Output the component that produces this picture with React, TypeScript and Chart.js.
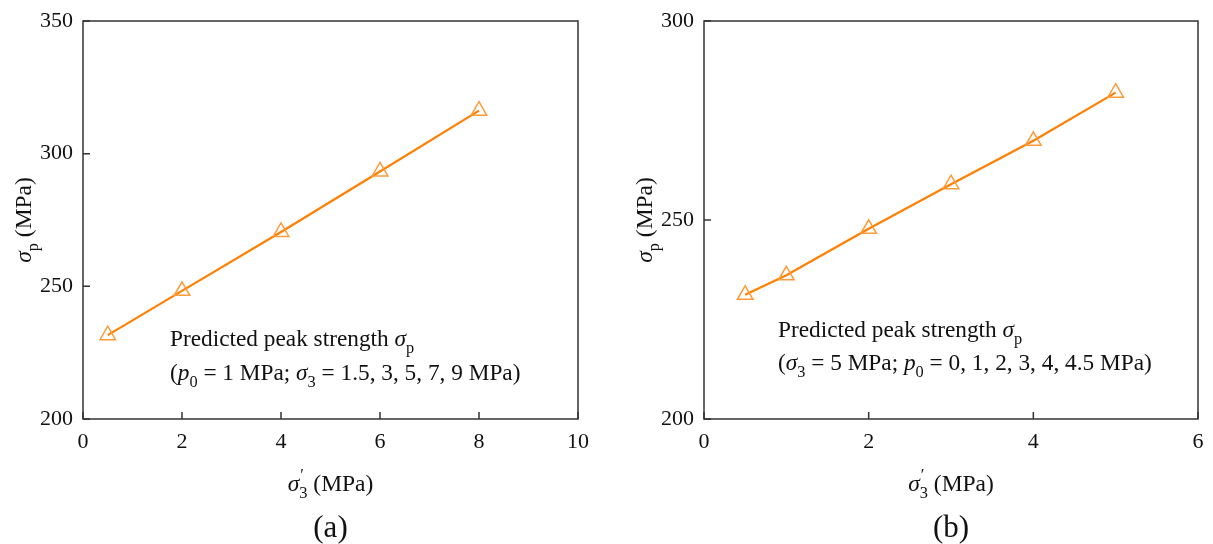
import React, { useEffect, useRef } from "react";
import { Chart, registerables } from "chart.js";
Chart.register(...registerables);

// ---- data ----
const xA = [0.5, 2, 4, 6, 8];
const yA = [231.6, 248.3, 270.5, 293.3, 316.2];
const xB = [0.5, 1, 2, 3, 4, 5];
const yB = [231.2, 236.1, 247.8, 259.0, 269.9, 282.0];

const xRangeA = [0, 10];
const yRangeA = [200, 350];
const xRangeB = [0, 6];
const yRangeB = [200, 300];
const xStep = 2;
const yStep = 50;

type Seg = { t: string; it?: boolean; sub?: boolean; sup?: boolean; keep?: boolean };

const noteA1: Seg[] = [{ t: "Predicted peak strength " }, { t: "σ", it: true }, { t: "p", sub: true }];
const noteA2: Seg[] = [
  { t: "(" }, { t: "p", it: true }, { t: "0", sub: true }, { t: " = 1 MPa; " },
  { t: "σ", it: true }, { t: "3", sub: true }, { t: " = 1.5, 3, 5, 7, 9 MPa)" },
];
const noteB1: Seg[] = noteA1;
const noteB2: Seg[] = [
  { t: "(" }, { t: "σ", it: true }, { t: "3", sub: true }, { t: " = 5 MPa; " },
  { t: "p", it: true }, { t: "0", sub: true }, { t: " = 0, 1, 2, 3, 4, 4.5 MPa)" },
];
const xTitle: Seg[] = [{ t: "σ", it: true }, { t: "3", sub: true, keep: true }, { t: "′", sup: true }, { t: " (MPa)" }];
const yTitle: Seg[] = [{ t: "σ", it: true }, { t: "p", sub: true }, { t: " (MPa)" }];

const FAMILY = "'Liberation Serif', 'Times New Roman', serif";
const TEXT = "#111111";
const LINE = "#ff8000";
const MARK = "#ff9a3a";

function segFont(s: Seg, size: number) {
  const sz = s.sub || s.sup ? size * 0.7 : size;
  return `${s.it ? "italic " : ""}${sz}px ${FAMILY}`;
}

function layoutRich(ctx: CanvasRenderingContext2D, segs: Seg[], size: number) {
  let x = 0;
  let keepStart = -1;
  let keepW = 0;
  const items: { s: Seg; x: number }[] = [];
  for (const s of segs) {
    ctx.font = segFont(s, size);
    const w = ctx.measureText(s.t).width;
    if (keepStart >= 0) {
      items.push({ s, x: keepStart + 1 });
      x = keepStart + Math.max(keepW, w + 1);
      keepStart = -1;
      continue;
    }
    items.push({ s, x });
    if (s.keep) {
      keepStart = x;
      keepW = w;
    } else {
      x += w;
    }
  }
  return { items, width: x };
}

function drawRich(
  ctx: CanvasRenderingContext2D, segs: Seg[], x: number, y: number, size: number, align: "left" | "center"
) {
  ctx.save();
  ctx.textAlign = "left";
  ctx.textBaseline = "alphabetic";
  ctx.fillStyle = TEXT;
  const { items, width } = layoutRich(ctx, segs, size);
  const x0 = align === "center" ? x - width / 2 : x;
  for (const it of items) {
    ctx.font = segFont(it.s, size);
    let dy = 0;
    if (it.s.sub) dy = size * 0.3;
    if (it.s.sup) dy = -size * 0.45;
    ctx.fillText(it.s.t, x0 + it.x, y + dy);
  }
  ctx.restore();
}

type PanelCfg = {
  xs: number[];
  ys: number[];
  xr: number[];
  yr: number[];
  width: number;
  leftW: number;
  rightPad: number;
  note1: Seg[];
  note2: Seg[];
  noteX: number;
  noteY1: number;
  noteY2: number;
  tag: string;
};

function Panel({ cfg }: { cfg: PanelCfg }) {
  const ref = useRef<HTMLCanvasElement | null>(null);
  useEffect(() => {
    const canvas = ref.current;
    if (!canvas) return;
    const deco = {
      id: "deco",
      afterDraw(chart: any) {
        const ctx = chart.ctx as CanvasRenderingContext2D;
        const a = chart.chartArea;
        const xs = chart.scales.x;
        const ys = chart.scales.y;
        ctx.save();
        ctx.strokeStyle = "#333333";
        ctx.lineWidth = 1.5;
        ctx.strokeRect(a.left, a.top, a.right - a.left, a.bottom - a.top);
        ctx.beginPath();
        for (const t of xs.ticks) {
          const px = xs.getPixelForValue(t.value);
          ctx.moveTo(px, a.bottom);
          ctx.lineTo(px, a.bottom - 7);
        }
        for (const t of ys.ticks) {
          const py = ys.getPixelForValue(t.value);
          ctx.moveTo(a.left, py);
          ctx.lineTo(a.left + 7, py);
        }
        ctx.stroke();
        ctx.restore();
        const cx = (a.left + a.right) / 2;
        const cy = (a.top + a.bottom) / 2;
        drawRich(ctx, xTitle, cx, 491, 23.5, "center");
        ctx.save();
        ctx.translate(a.left - 52, cy);
        ctx.rotate(-Math.PI / 2);
        drawRich(ctx, yTitle, 0, 0, 23.5, "center");
        ctx.restore();
        drawRich(ctx, cfg.note1, cfg.noteX, cfg.noteY1, 23.3, "left");
        drawRich(ctx, cfg.note2, cfg.noteX, cfg.noteY2, 23.3, "left");
        ctx.save();
        ctx.font = `31px ${FAMILY}`;
        ctx.fillStyle = TEXT;
        ctx.textAlign = "center";
        ctx.textBaseline = "alphabetic";
        ctx.fillText(cfg.tag, cx, 537);
        ctx.restore();
      },
    };
    const chart = new Chart(canvas, {
      type: "line",
      data: {
        datasets: [
          {
            data: cfg.xs.map((x, i) => ({ x, y: cfg.ys[i] })),
            borderColor: LINE,
            borderWidth: 2.2,
            pointStyle: "triangle",
            pointRadius: 9,
            pointBorderWidth: 1.5,
            pointBorderColor: MARK,
            pointBackgroundColor: "rgba(0,0,0,0)",
            tension: 0,
            fill: false,
          },
        ],
      },
      options: {
        responsive: false,
        animation: false,
        devicePixelRatio: 1,
        layout: { padding: { left: 0, right: cfg.rightPad, top: 21, bottom: 0 } },
        plugins: { legend: { display: false }, tooltip: { enabled: false }, title: { display: false } },
        scales: {
          x: {
            type: "linear",
            min: cfg.xr[0],
            max: cfg.xr[1],
            grid: { display: false },
            border: { display: false },
            ticks: { stepSize: xStep, color: TEXT, font: { family: FAMILY, size: 22 }, padding: 2, maxRotation: 0 },
            afterFit: (s: any) => { s.height = 125; },
          },
          y: {
            type: "linear",
            min: cfg.yr[0],
            max: cfg.yr[1],
            grid: { display: false },
            border: { display: false },
            ticks: { stepSize: yStep, color: TEXT, font: { family: FAMILY, size: 22 }, padding: 2 },
            afterFit: (s: any) => { s.width = cfg.leftW; },
          },
        },
      },
      plugins: [deco],
    } as any);
    return () => chart.destroy();
  }, [cfg]);
  return <canvas ref={ref} width={cfg.width} height={544} style={{ display: "block", width: cfg.width, height: 544 }} />;
}

const cfgA: PanelCfg = {
  xs: xA, ys: yA, xr: xRangeA, yr: yRangeA, width: 606, leftW: 83, rightPad: 28,
  note1: noteA1, note2: noteA2, noteX: 170, noteY1: 346, noteY2: 380, tag: "(a)",
};
const cfgB: PanelCfg = {
  xs: xB, ys: yB, xr: xRangeB, yr: yRangeB, width: 607, leftW: 98, rightPad: 15,
  note1: noteB1, note2: noteB2, noteX: 172, noteY1: 337, noteY2: 370, tag: "(b)",
};

export default function App() {
  return (
    <div style={{ position: "absolute", left: 0, top: 0, width: 1213, height: 544, display: "flex", background: "#fff" }}>
      <Panel cfg={cfgA} />
      <Panel cfg={cfgB} />
    </div>
  );
}
